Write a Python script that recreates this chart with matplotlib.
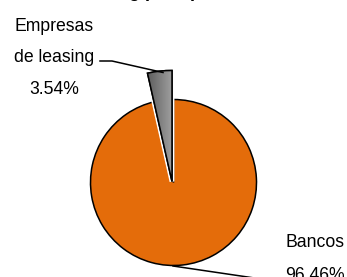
import matplotlib.pyplot as plt
import matplotlib.patheffects as pe
import numpy as np

# data
labels = ['Empresas\nde leasing', 'Bancos']
shares = [3.54, 96.46]
colors = ['#7f7f7f', '#e46c0a']

W, H = 347, 277
fig = plt.figure(figsize=(W / 100, H / 100), dpi=100)
ax = fig.add_axes([0, 0, 1, 1])
ax.set_aspect('equal')

plt.rcParams['font.family'] = ['Liberation Sans', 'DejaVu Sans']

# pie in pixel-like coords (y measured from bottom)
cx, cy, r = 173.5, H - 182.5, 83
wedges, _ = ax.pie(shares, colors=colors, startangle=90, counterclock=True,
                   center=(cx, cy), radius=r, frame=True,
                   wedgeprops=dict(edgecolor='black', linewidth=1.1))

# small slice drawn bigger and slightly shifted, like the original
grey = wedges[0]
grey.set_radius(111)
grey.set_center((cx - 1.5, cy + 1))
grey.set_zorder(3)
grey.set_path_effects([pe.Stroke(linewidth=3.5, foreground='white'), pe.Normal()])

# gradient fill for the grey wedge
grad = np.linspace(0, 1, 64).reshape(1, -1)
cmap = plt.matplotlib.colors.LinearSegmentedColormap.from_list('g', ['#4a4a4a', '#a6a6a6'])
im = ax.imshow(grad, cmap=cmap, extent=(140, 175, H - 185, H - 70),
               aspect='auto', zorder=3.5)
im.set_clip_path(grey)
grey_edge = plt.matplotlib.patches.Wedge(grey.center, grey.r, grey.theta1, grey.theta2,
                                         facecolor='none', edgecolor='black',
                                         linewidth=1.1, zorder=4)
ax.add_patch(grey_edge)
ax.set_xlim(0, W)
ax.set_ylim(0, H)
ax.axis('off')

# labels
fs = 12.7
ax.text(54, H - 58, f'{labels[0]}\n{shares[0]:.2f}%', ha='center', va='center',
        fontsize=fs, linespacing=2.15)
ax.text(315, H - 259, f'{labels[1]}\n{shares[1]:.2f}%', ha='center', va='center',
        fontsize=fs, linespacing=2.2)

# leader lines
ax.plot([100, 112, 163], [H - 61, H - 61, H - 72.5], color='black', lw=1.1, zorder=5)
ax.plot([173, 268], [H - 266, H - 280], color='black', lw=1.1, zorder=5, clip_on=False)

# title, mostly above the visible area
ax.text(W / 2 + 30, H + 3, 'Leasing por tipo de institución', ha='center', va='baseline',
        fontsize=13, fontweight='bold')

fig.savefig('out.png', dpi=100)
